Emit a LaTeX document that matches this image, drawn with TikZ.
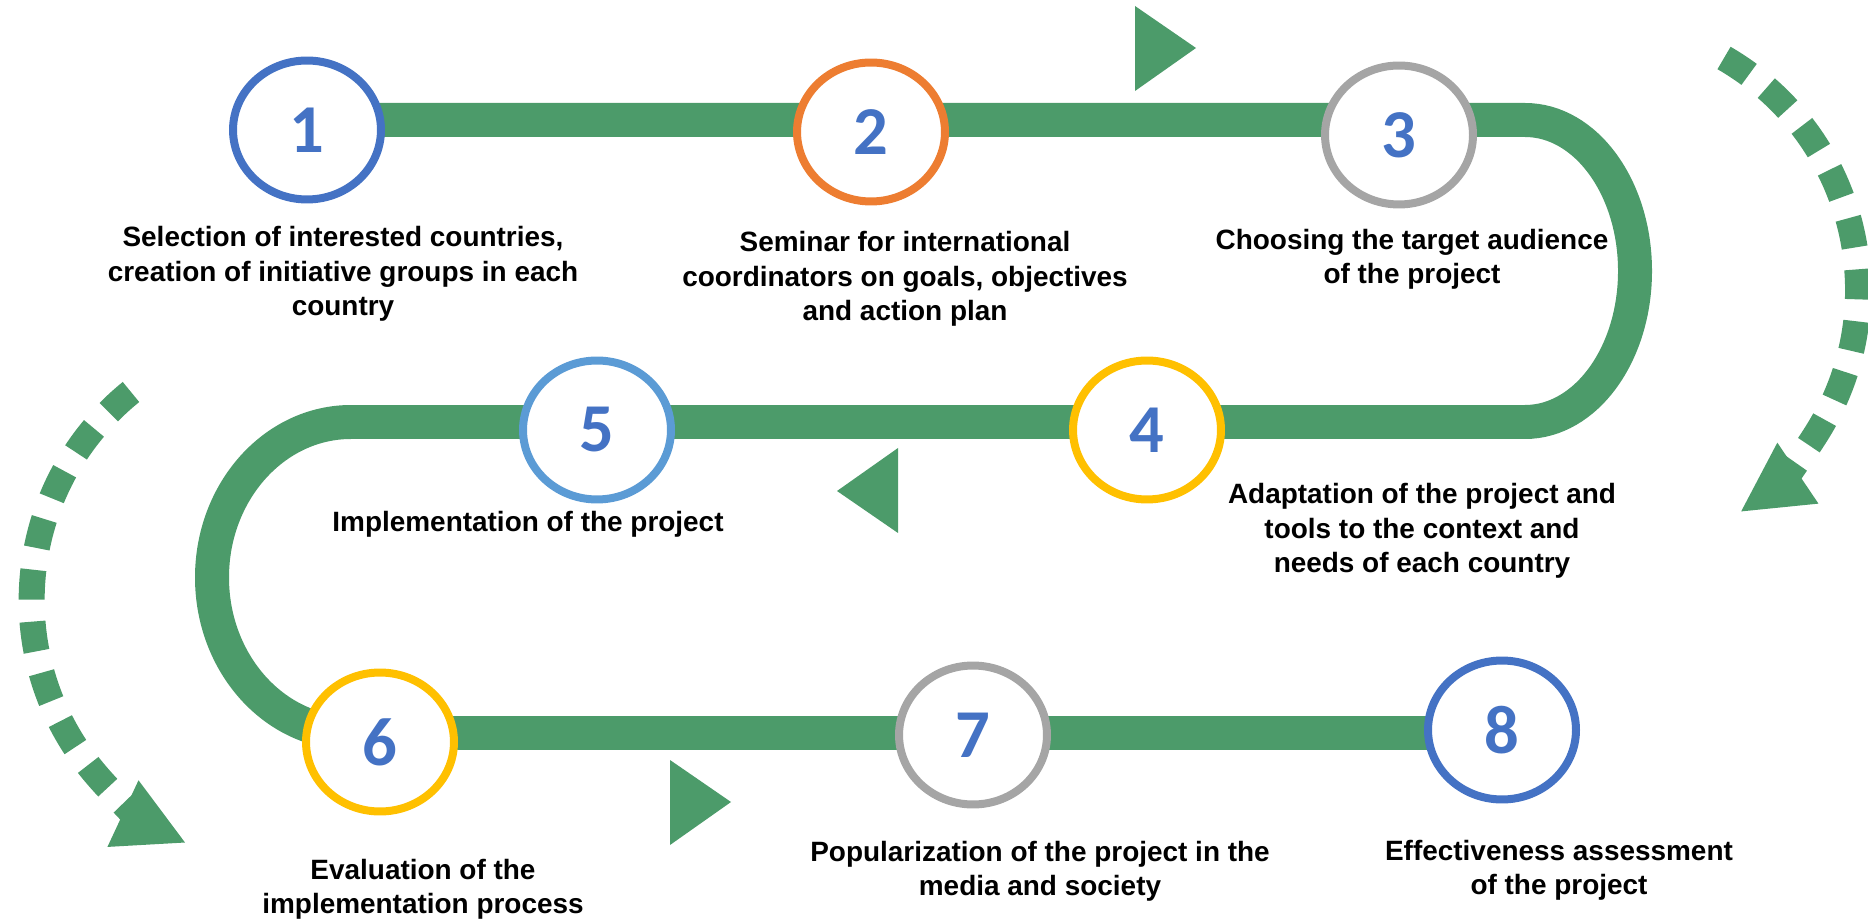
\documentclass[tikz,border=0pt]{standalone}
\usepackage{fontspec}
\setmainfont{Liberation Sans}
\newfontfamily\numfont{Carlito}
\usetikzlibrary{arrows.meta,shapes.geometric}
\definecolor{band}{RGB}{76,155,106}
\definecolor{cblue}{RGB}{68,114,196}
\definecolor{corange}{RGB}{237,125,49}
\definecolor{cgray}{RGB}{165,165,165}
\definecolor{cgold}{RGB}{255,192,0}
\definecolor{clight}{RGB}{91,155,213}
\begin{document}
\begin{tikzpicture}[x=0.02cm,y=0.02cm,
  road/.style={draw=band,line width=0.68cm},
  num/.style={ellipse,fill=white,line width=0.16cm,inner sep=0pt,
    minimum width=2.96cm,minimum height=2.78cm,text=cblue,
    font=\numfont\bfseries\fontsize{39}{39}\selectfont},
  lbl/.style={align=center,font=\bfseries\fontsize{15.9}{19.6}\selectfont},
  dots/.style={draw=band,line width=0.52cm,dash pattern=on 0.6cm off 0.44cm},
  tri/.style={fill=band}]
  \useasboundingbox (0,0) rectangle (1868,920);
  \coordinate (rt) at (1525,800);
  \coordinate (lt) at (351,498);
  \coordinate (lb) at (351,187);
  \draw[road] (307,800) -- (rt)
    arc[start angle=90,end angle=-90,x radius=110,y radius=151]
    -- (lt) arc[start angle=90,end angle=270,x radius=139,y radius=155.5]
    -- (1502,187);
  \foreach \n/\x/\y/\c in {1/307/790/cblue,2/871/788/corange,3/1399/785/cgray,
    4/1147/490/cgold,5/597/490/clight,6/380/178/cgold,7/973/185/cgray,8/1502/190/cblue}
    \node[num,draw=\c] (n\n) at (\x,\y) {\n};
  \node[lbl] (t1) at (343,646) {Selection of interested countries,\\creation of initiative groups in each\\country};
  \node[lbl] (t2) at (905,641) {Seminar for international\\coordinators on goals, objectives\\and action plan};
  \node[lbl] (t3) at (1412,661) {Choosing the target audience\\of the project};
  \node[lbl] (t4) at (1422,389) {Adaptation of the project and\\tools to the context and\\needs of each country};
  \node[lbl] (t5) at (528,396) {Implementation of the project};
  \node[lbl] (t6) at (423,31) {Evaluation of the\\implementation process};
  \node[lbl] (t7) at (1040,49) {Popularization of the project in the\\media and society};
  \node[lbl] (t8) at (1559,50) {Effectiveness assessment\\of the project};
  \fill[tri] (1135,914) -- (1135,829) -- (1196,872) -- cycle;
  \fill[tri] (837,429) -- (898,472) -- (898,387) -- cycle;
  \fill[tri] (670,160) -- (670,75) -- (731,118) -- cycle;
  \coordinate (ra) at (1724,862);
  \coordinate (la) at (131,528);
  \draw[dots,-{Triangle[length=1.4cm,width=1.36cm]}] (ra)
    arc[start angle=60,end angle=-56,radius=268];
  \draw[dots,-{Triangle[length=1.4cm,width=1.36cm]}] (la)
    arc[start angle=129,end angle=245,radius=268];
\end{tikzpicture}
\end{document}
